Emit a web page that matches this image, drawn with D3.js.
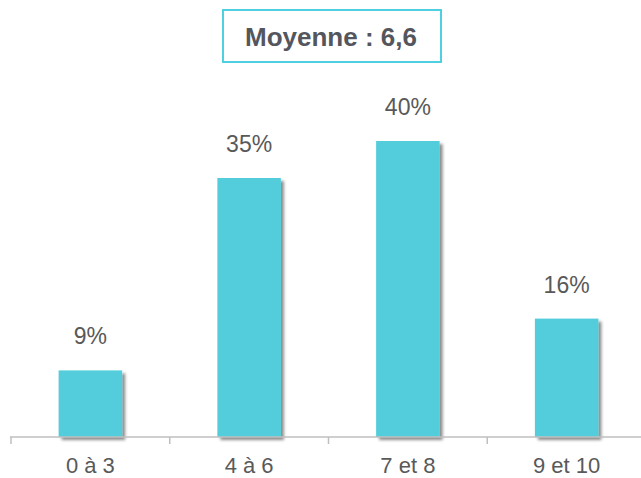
<!DOCTYPE html>
<html><head><meta charset="utf-8">
<script src="https://cdn.jsdelivr.net/npm/d3@7"></script>
<style>body{margin:0;background:#fff;}svg{display:block;font-family:"Liberation Sans",Arial,sans-serif;}</style>
</head><body>
<svg id="c" width="641" height="478"></svg>
<script>
const categories = ["0 à 3", "4 à 6", "7 et 8", "9 et 10"];
const values = [9, 35, 40, 16];
const valueLabels = ["9%", "35%", "40%", "16%"];
const title = "Moyenne : 6,6";

const svg = d3.select("#c");
const defs = svg.append("defs");
const f = defs.append("filter").attr("id","sh").attr("x","-20%").attr("y","-20%").attr("width","150%").attr("height","150%");
f.append("feDropShadow").attr("dx",3).attr("dy",3).attr("stdDeviation",1.8).attr("flood-color","#000").attr("flood-opacity",0.45);

const x = d3.scaleBand().domain(categories).range([11, 646]).paddingInner(0.6).paddingOuter(0.3);
const y = d3.scaleLinear().domain([0, 40]).range([437, 141]);

// bars
svg.append("g").selectAll("rect").data(values).join("rect")
  .attr("x",(d,i)=>x(categories[i]))
  .attr("y",d=>y(d))
  .attr("width",x.bandwidth())
  .attr("height",d=>y(0)-y(d))
  .attr("fill","#53CDDB")
  .attr("filter","url(#sh)");

// axis
const axis = d3.axisBottom(x).tickSize(0).tickPadding(20);
const gx = svg.append("g").attr("transform","translate(0,437)").call(axis);
gx.select(".domain").remove();
gx.append("line").attr("x1",10).attr("x2",641).attr("y1",0).attr("y2",0).attr("stroke","#BFBFBF").attr("stroke-width",1.5);
const step = x.step();
const bounds = d3.range(categories.length+1).map(i=>11+i*step);
gx.selectAll(".sep").data(bounds).join("line").attr("class","sep")
  .attr("x1",d=>d).attr("x2",d=>d).attr("y1",0).attr("y2",7)
  .attr("stroke","#BFBFBF").attr("stroke-width",1.5);
gx.selectAll(".tick text").attr("font-size",22).attr("fill","#595959").attr("font-family","Liberation Sans, Arial, sans-serif").attr("dy",null).attr("y",36);

// value labels
svg.append("g").selectAll("text").data(values).join("text")
  .attr("x",(d,i)=>x(categories[i])+x.bandwidth()/2)
  .attr("y",d=>y(d)-26)
  .attr("text-anchor","middle")
  .attr("font-size",23)
  .attr("fill","#595959")
  .text((d,i)=>valueLabels[i]);

// title box
svg.append("rect").attr("x",223).attr("y",10).attr("width",218).attr("height",52)
  .attr("fill","#fff").attr("stroke","#4FD0E0").attr("stroke-width",2);
svg.append("text").attr("x",331).attr("y",46).attr("text-anchor","middle")
  .attr("font-size",26).attr("font-weight","bold").attr("fill","#54565E").text(title);
</script>
</body></html>
